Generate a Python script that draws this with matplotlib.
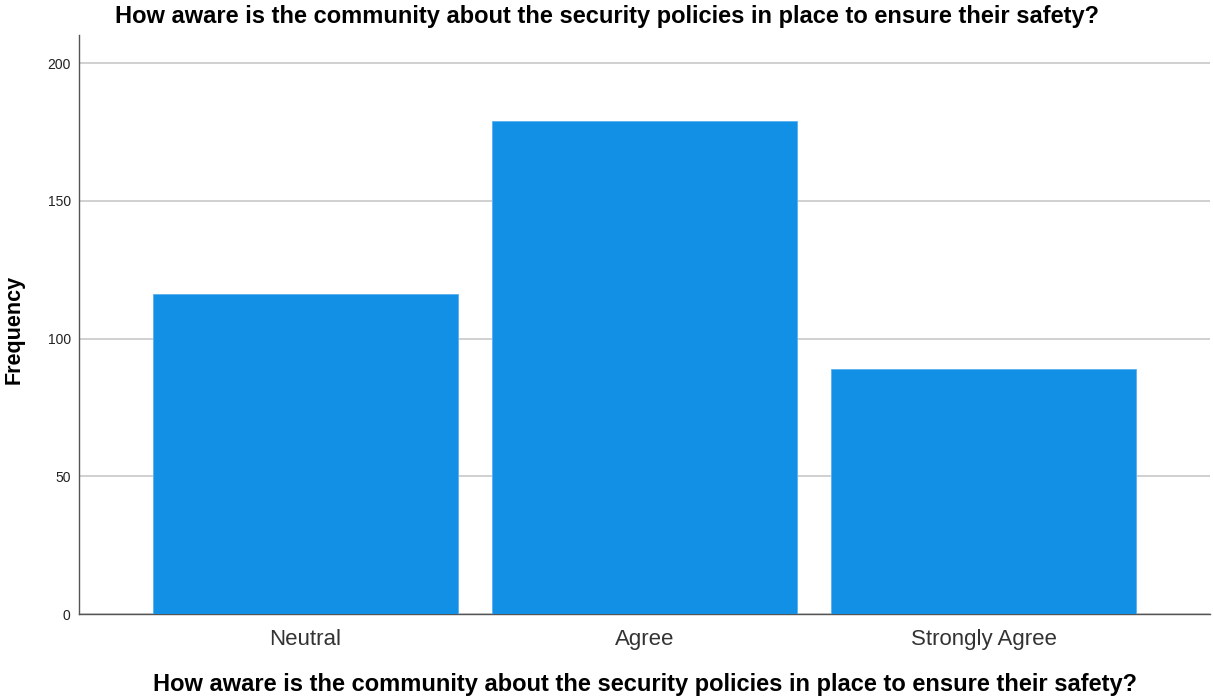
import matplotlib
matplotlib.use("Agg")
import matplotlib.pyplot as plt

categories = ["Neutral", "Agree", "Strongly Agree"]
frequencies = [116, 179, 89]
yticks = [0, 50, 100, 150, 200]
title = "How aware is the community about the security policies in place to ensure their safety?"

plt.rcParams['font.family'] = ['Liberation Sans', 'DejaVu Sans']

fig = plt.figure(figsize=(12.13, 6.99), dpi=100)
ax = fig.add_axes([79/1213, 1 - 614/699, (1210-79)/1213, (614-35)/699])

x = list(range(len(categories)))
ax.bar(x, frequencies, width=0.9, color="#1290E6", edgecolor="#5AB0F0", linewidth=0.6, zorder=3)

ax.set_xlim(-0.668, 2.668)
ax.set_ylim(0, 210.2)
ax.set_yticks(yticks)
ax.set_yticklabels([str(v) for v in yticks], fontsize=10, color="#222222")
ax.set_xticks(x)
ax.set_xticklabels(categories, fontsize=16, color="#333333")
ax.tick_params(axis='x', length=0, pad=11)
ax.tick_params(axis='y', length=0, pad=6)
ax.yaxis.grid(True, color="#c8c8c8", linewidth=1.2, zorder=0)
ax.set_axisbelow(True)
for s in ["top", "right"]:
    ax.spines[s].set_visible(False)
for s in ["left", "bottom"]:
    ax.spines[s].set_color("#555555")
    ax.spines[s].set_linewidth(1.0)

fig.text(14/1213, 1 - 329/699, "Frequency", rotation=90, ha="center", va="center",
         fontsize=15.5, fontweight="bold")
fig.text(607/1213, 1 - 17/699, title, ha="center", va="center", fontsize=17, fontweight="bold")
fig.text(645/1213, 1 - 685/699, title, ha="center", va="center", fontsize=17, fontweight="bold")

fig.savefig("out.png", dpi=100)
